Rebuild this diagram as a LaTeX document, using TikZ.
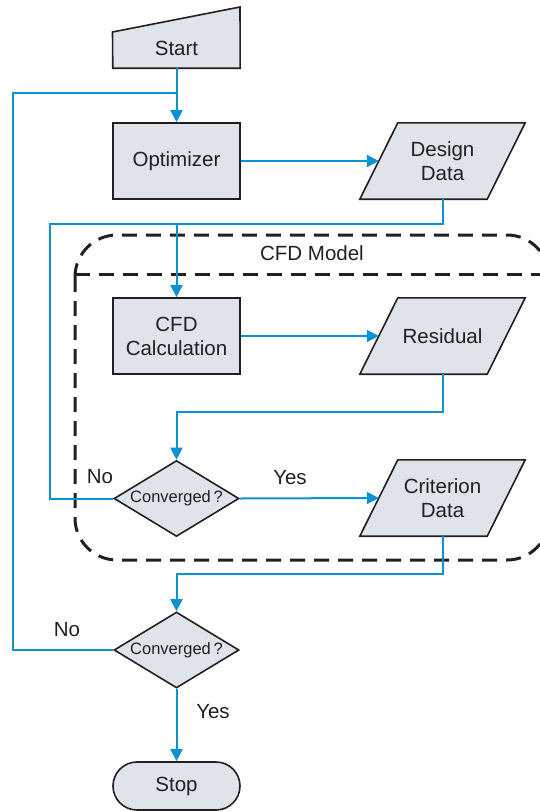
\documentclass[tikz,border=0pt]{standalone}
\usepackage{fontspec}
\setmainfont{Liberation Sans}
\usetikzlibrary{shapes.geometric,arrows.meta,backgrounds}
\definecolor{boxfill}{RGB}{223,227,234}
\definecolor{flow}{RGB}{10,146,210}
\definecolor{ink}{RGB}{35,31,32}
\begin{document}
\begin{tikzpicture}[x=1pt,y=-1pt,
  every node/.style={text=ink,font=\fontsize{20.5}{24}\selectfont,align=center},
  shapeline/.style={draw=ink,fill=boxfill,line width=1.6pt,line join=miter},
  procbox/.style={rectangle,shapeline,minimum width=127pt,minimum height=76pt,inner sep=0pt},
  databody/.style={rectangle,minimum width=127pt,minimum height=76pt,inner sep=0pt},
  decide/.style={diamond,aspect=1.64,shapeline,minimum width=125pt,minimum height=76pt,inner sep=0pt,font=\fontsize{16.5}{20}\selectfont},
  termbox/.style={rectangle,rounded corners=24pt,shapeline,minimum width=127pt,minimum height=48pt,inner sep=0pt},
  conn/.style={draw=flow,line width=2pt},
  arr/.style={conn,-{Triangle[length=12pt,width=12pt]}},
  lbl/.style={inner sep=0pt},
  groupline/.style={draw=ink,line width=3pt,dash pattern=on 15pt off 9pt}
]
\useasboundingbox (0,0) rectangle (540,811);
% start (manual input)
\node[minimum width=127pt,minimum height=40pt,inner sep=0pt] (start) at (176.5,48) {Start};
% nodes
\node[procbox] (opt) at (176.5,161) {Optimizer};
\node[databody] (design) at (442.5,161) {Design\\Data};
\node[procbox] (cfd) at (176.5,336) {CFD\\Calculation};
\node[databody] (resid) at (442.5,336) {Residual};
\node[decide] (conv1) at (176.5,498.5) {Converged\,?};
\node[databody] (crit) at (442.5,498) {Criterion\\Data};
\node[decide] (conv2) at (176.5,650) {Converged\,?};
\node[termbox] (stop) at (176.5,786) {Stop};
\node[lbl] (cfdmodel) at (312,253) {CFD Model};
% labels
\node[lbl] (no1) at (100,477) {No};
\node[lbl] (yes1) at (290,478) {Yes};
\node[lbl] (no2) at (67,630) {No};
\node[lbl] (yes2) at (213,712) {Yes};
\begin{scope}[on background layer]
  % group box
  \draw[groupline,rounded corners=42pt] (75,235) rectangle (549,560);
  \draw[groupline] (75,274) -- (549,274);
  % start outline
  \draw[shapeline] (start.south west) -- (112.5,32) -- (240,7) -- (start.south east) -- cycle;
  % data parallelograms
  \foreach \n in {design,resid,crit}{
    \draw[shapeline] ([xshift=-19pt]\n.south west) -- ([xshift=19pt]\n.north west) -- ([xshift=19pt]\n.north east) -- ([xshift=-19pt]\n.south east) -- cycle;
  }
\end{scope}
% junction coordinates
\coordinate (outerloop) at (13,93);
\coordinate (innerloop) at (50,224);
\coordinate (j1) at (176.5,224);
\coordinate (j2) at (176.5,412);
\coordinate (j3) at (176.5,574);
% connectors
\draw[arr] (start.south) -- (opt.north);
\draw[conn] (conv2.west) -| (outerloop) -- (outerloop -| opt.north);
\draw[arr] (opt.east) -- (design.west);
\draw[arr] (design.south) |- (j1) -- (cfd.north);
\draw[conn] (conv1.west) -| (innerloop) -- (j1);
\draw[arr] (cfd.east) -- (resid.west);
\draw[arr] (resid.south) |- (j2) -- (conv1.north);
\draw[arr] (conv1.east) -- (crit.west);
\draw[arr] (crit.south) |- (j3) -- (conv2.north);
\draw[arr] (conv2.south) -- (stop.north);
\end{tikzpicture}
\end{document}
